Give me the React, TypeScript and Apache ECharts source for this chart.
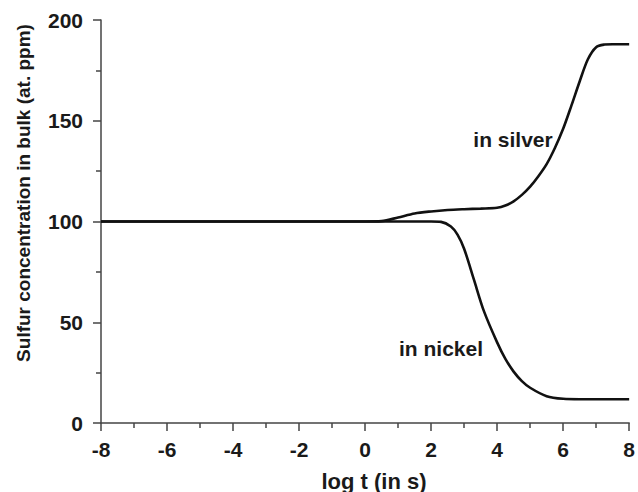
import React, { useEffect, useRef } from "react";
import * as echarts from "echarts";

const silverX = [-8, -4, 0, 0.5, 1, 1.5, 2, 2.5, 3, 3.5, 4, 4.25, 4.5, 4.75, 5, 5.25, 5.5, 5.75, 6, 6.25, 6.5, 6.75, 7, 7.25, 7.5, 8];
const silverY = [100, 100, 100, 100.2, 102, 104, 105, 105.7, 106.1, 106.4, 106.8, 107.9, 110, 113.2, 117.3, 122.5, 128.5, 136.5, 146, 157.5, 169.5, 180.5, 186.5, 187.8, 188, 188];

const nickelX = [-8, -4, 0, 2, 2.3, 2.6, 2.8, 3, 3.3, 3.6, 4, 4.25, 4.5, 4.75, 5, 5.5, 6, 6.5, 7, 8];
const nickelY = [100, 100, 100, 100, 99.8, 97.5, 93.5, 86.5, 71, 55.5, 40, 31.8, 25.5, 20.8, 17.5, 13.3, 12, 11.8, 11.8, 11.8];

const xTitle = "log t (in s)";
const yTitle = "Sulfur concentration in bulk (at. ppm)";
const silverLabel = "in silver";
const nickelLabel = "in nickel";

const FONT = "'Liberation Sans', Arial, Helvetica, sans-serif";

export default function App() {
  const ref = useRef<HTMLDivElement>(null);
  useEffect(() => {
    if (!ref.current) return;
    const chart = echarts.init(ref.current, undefined, { renderer: "svg" });
    const axisColor = "#444";
    chart.setOption({
      animation: false,
      backgroundColor: "#fff",
      grid: { left: 101, right: 5, top: 20, bottom: 69, containLabel: false },
      xAxis: {
        type: "value",
        min: -8,
        max: 8,
        interval: 2,
        axisLine: { show: true, onZero: false, lineStyle: { color: axisColor, width: 1.5 } },
        axisTick: { show: true, inside: false, length: 8, lineStyle: { color: axisColor, width: 1.5 } },
        minorTick: { show: true, splitNumber: 2, length: 5, lineStyle: { color: axisColor, width: 1.5 } },
        splitLine: { show: false },
        axisLabel: {
          margin: 16,
          color: "#1a1a1a",
          fontFamily: FONT,
          fontWeight: "bold",
          fontSize: 21,
        },
      },
      yAxis: {
        type: "value",
        min: 0,
        max: 200,
        interval: 50,
        axisLine: { show: true, onZero: false, lineStyle: { color: axisColor, width: 1.5 } },
        axisTick: { show: true, inside: false, length: 8, lineStyle: { color: axisColor, width: 1.5 } },
        minorTick: { show: true, splitNumber: 2, length: 5, lineStyle: { color: axisColor, width: 1.5 } },
        splitLine: { show: false },
        axisLabel: {
          margin: 18,
          color: "#1a1a1a",
          fontFamily: FONT,
          fontWeight: "bold",
          fontSize: 21,
        },
      },
      graphic: [
        {
          type: "text",
          x: 23,
          y: 193,
          rotation: Math.PI / 2,
          style: {
            text: yTitle,
            fill: "#1a1a1a",
            font: `bold 19px ${FONT}`,
            align: "center",
            verticalAlign: "middle",
          },
        },
        {
          type: "text",
          x: 374,
          y: 481,
          style: {
            text: xTitle,
            fill: "#1a1a1a",
            font: `bold 22px ${FONT}`,
            align: "center",
            verticalAlign: "middle",
          },
        },
        {
          type: "text",
          x: 513,
          y: 139,
          style: {
            text: silverLabel,
            fill: "#1a1a1a",
            font: `bold 21px ${FONT}`,
            align: "center",
            verticalAlign: "middle",
          },
        },
        {
          type: "text",
          x: 441,
          y: 348,
          style: {
            text: nickelLabel,
            fill: "#1a1a1a",
            font: `bold 21px ${FONT}`,
            align: "center",
            verticalAlign: "middle",
          },
        },
      ],
      series: [
        {
          name: "silver",
          type: "line",
          data: silverX.map((x, i) => [x, silverY[i]]),
          smooth: 0.3,
          showSymbol: false,
          symbol: "none",
          lineStyle: { color: "#111", width: 2.6 },
        },
        {
          name: "nickel",
          type: "line",
          data: nickelX.map((x, i) => [x, nickelY[i]]),
          smooth: 0.3,
          showSymbol: false,
          symbol: "none",
          lineStyle: { color: "#111", width: 2.6 },
        },
      ],
    });
    return () => chart.dispose();
  }, []);
  return <div ref={ref} style={{ width: 638, height: 492, position: "absolute", left: 0, top: 0 }} />;
}
